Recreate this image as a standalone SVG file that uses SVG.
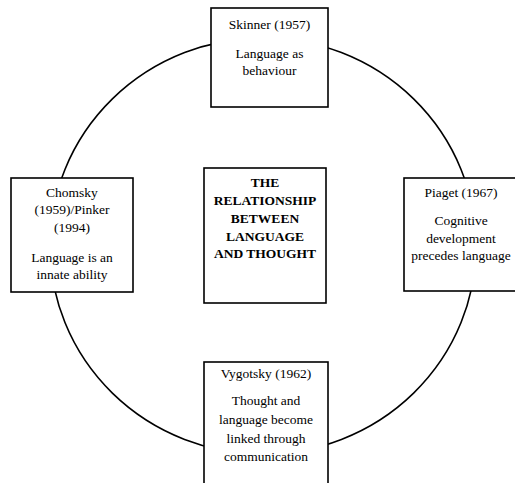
<svg xmlns="http://www.w3.org/2000/svg" width="515" height="483" viewBox="0 0 515 483">
<style>
.box{fill:#fff;stroke:#000;stroke-width:1.6}
.ring{fill:none;stroke:#000;stroke-width:1.6}
text{font-size:13.5px;fill:#000;text-anchor:middle}
.b{font-weight:bold}
</style>
<rect width="515" height="483" fill="#fff"/>
<g id="connectors">
<ellipse class="ring" cx="263" cy="246" rx="213" ry="208"/>
</g>
<g font-family="Liberation Serif, DejaVu Serif, serif">
<g id="skinner">
<rect class="box" x="211" y="8" width="117" height="99"/>
<text x="269.5" y="29">Skinner (1957)</text>
<text x="269.5" y="58">Language as</text>
<text x="269.5" y="75">behaviour</text>
</g>
<g id="chomsky">
<rect class="box" x="11" y="178" width="122" height="114"/>
<text x="72" y="197">Chomsky</text>
<text x="72" y="214">(1959)/Pinker</text>
<text x="72" y="232">(1994)</text>
<text x="72" y="262">Language is an</text>
<text x="72" y="279">innate ability</text>
</g>
<g id="piaget">
<rect class="box" x="404" y="178" width="120" height="113"/>
<text x="461" y="197">Piaget (1967)</text>
<text x="461" y="225">Cognitive</text>
<text x="461" y="243">development</text>
<text x="461" y="260">precedes language</text>
</g>
<g id="vygotsky">
<rect class="box" x="204" y="362" width="124" height="130"/>
<text x="266" y="378">Vygotsky (1962)</text>
<text x="266" y="405">Thought and</text>
<text x="266" y="424">language become</text>
<text x="266" y="443">linked through</text>
<text x="266" y="461">communication</text>
</g>
<g id="center">
<rect class="box" x="204" y="168" width="122" height="135"/>
<text class="b" x="265" y="187">THE</text>
<text class="b" x="265" y="205">RELATIONSHIP</text>
<text class="b" x="265" y="223">BETWEEN</text>
<text class="b" x="265" y="241">LANGUAGE</text>
<text class="b" x="265" y="258">AND THOUGHT</text>
</g>
</g>
</svg>
